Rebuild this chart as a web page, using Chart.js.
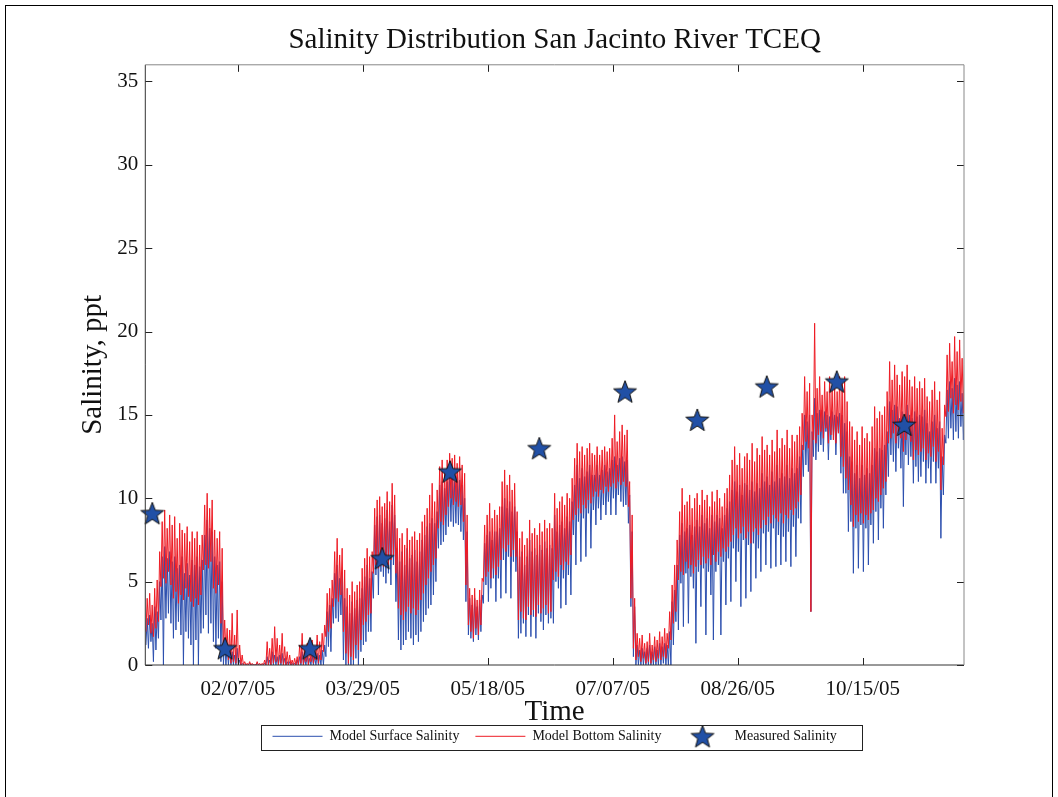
<!DOCTYPE html>
<html>
<head>
<meta charset="utf-8">
<title>Salinity Distribution San Jacinto River TCEQ</title>
<script src="https://cdn.jsdelivr.net/npm/chart.js@4.4.1/dist/chart.umd.min.js"></script>
<style>
  html, body { margin: 0; padding: 0; background: #fff; }
  #salinityChart { display: block; }
</style>
</head>
<body>
<canvas id="salinityChart" width="1058" height="797"></canvas>
<script>
// Salinidad (ppt) por día desde 01/01/05: mínimo y máximo diario de cada serie del modelo
const bottomLow = [
  2.0, 2.4, 1.9, 1.7, 2.2, 2.6, 4.7, 5.2, 4.9, 5.6,
  4.8, 4.0, 4.4, 3.7, 4.2, 3.9, 4.6, 4.1, 3.8, 3.5,
  4.0, 3.6, 4.2, 5.7, 6.0, 5.8, 6.2, 4.6, 4.3, 4.8,
  2.5, 0.7, 0.8, 0.3, 0.1, 0.2, 0.1, 0.0, 0.0, 0.0,
  0.0, 0.0, 0.0, 0.0, 0.0, 0.0, 0.0, 0.0, 0.0, 0.0,
  0.0, 0.1, 0.2, 0.0, 0.1, 0.0, 0.0, 0.0, 0.0, 0.0,
  0.0, 0.0, 0.1, 0.0, 0.2, 0.0, 0.2, 0.1, 0.3, 0.1,
  0.3, 0.8, 1.7, 2.0, 2.2, 3.5, 4.0, 3.8, 4.2, 2.0,
  0.7, 0.1, 0.5, 0.3, 1.2, 0.9, 1.5, 2.4, 2.6, 3.0,
  3.1, 5.5, 6.0, 5.8, 6.2, 5.9, 6.5, 6.0, 6.3, 6.6,
  5.5, 3.4, 3.0, 2.7, 3.2, 3.5, 3.1, 3.4, 3.0, 3.3,
  3.9, 4.3, 4.8, 5.2, 5.6, 6.0, 6.4, 8.2, 8.6, 8.4,
  9.0, 9.5, 10.0, 9.6, 9.8, 9.5, 9.6, 8.6, 4.8, 2.4,
  2.0, 1.6, 2.2, 1.8, 2.4, 5.0, 5.3, 5.6, 5.2, 5.8,
  5.4, 5.9, 6.3, 7.0, 6.8, 7.2, 6.5, 6.9, 6.5, 2.7,
  3.2, 2.8, 2.7, 3.5, 3.0, 3.3, 2.9, 3.6, 3.1, 3.4,
  3.6, 3.1, 3.2, 5.1, 5.6, 5.3, 6.0, 5.7, 6.2, 6.0,
  6.6, 8.7, 9.0, 9.4, 9.1, 9.6, 9.4, 9.9, 9.7, 10.1,
  10.4, 10.1, 10.5, 10.3, 10.7, 10.4, 10.7, 10.9, 10.6, 11.0,
  10.8, 11.0, 10.7, 9.5, 4.0, 1.0, 0.3, 0.5, 0.2, 0.4,
  0.1, 0.2, 0.1, 0.3, 0.2, 0.4, 0.3, 0.5, 0.4, 1.0,
  1.5, 2.5, 3.2, 5.1, 5.6, 5.4, 6.2, 5.8, 6.0, 5.5,
  5.9, 6.3, 6.0, 6.5, 6.1, 6.4, 6.0, 6.6, 6.2, 6.8,
  6.5, 7.0, 6.8, 7.1, 7.4, 7.8, 8.2, 7.6, 7.9, 8.3,
  7.6, 8.0, 7.3, 8.0, 8.2, 7.8, 8.2, 8.7, 8.4, 8.9,
  8.5, 9.0, 8.8, 8.6, 9.1, 8.5, 9.0, 8.8, 9.3, 9.0,
  9.4, 9.8, 10.2, 12.9, 13.4, 13.0, 3.2, 13.5, 13.3, 13.8,
  14.0, 13.6, 14.2, 13.3, 13.8, 13.5, 13.3, 13.9, 12.5, 11.9,
  11.2, 10.5, 9.6, 8.3, 9.0, 8.6, 9.1, 8.5, 9.0, 8.7,
  9.1, 9.3, 10.0, 9.8, 10.2, 10.6, 11.0, 13.3, 13.6, 13.9,
  13.3, 14.0, 13.6, 12.8, 13.5, 14.0, 13.4, 12.3, 12.9, 12.6,
  12.8, 13.0, 12.3, 12.7, 12.5, 13.1, 12.2, 12.8, 10.5, 12.0,
  14.9, 15.2, 16.0, 15.1, 15.6, 15.3, 15.8, 15.1
];

const bottomHigh = [
  4.0, 4.3, 3.6, 4.6, 5.1, 6.8, 8.6, 9.3, 8.2, 9.0,
  8.4, 8.9, 7.6, 8.5, 8.1, 7.9, 8.3, 7.4, 8.0, 7.6,
  8.0, 7.2, 7.8, 9.6, 10.3, 9.4, 9.9, 8.1, 7.6, 8.0,
  7.0, 2.7, 2.2, 2.1, 3.1, 1.8, 3.3, 1.2, 0.6, 0.2,
  0.1, 0.2, 0.1, 0.0, 0.2, 0.1, 0.1, 0.3, 1.4, 1.0,
  1.6, 2.3, 1.6, 1.2, 1.9, 1.1, 0.8, 0.6, 0.3, 0.4,
  0.5, 1.2, 1.9, 0.9, 1.3, 0.9, 1.5, 1.1, 1.8, 1.4,
  1.9, 2.4, 4.3, 4.6, 5.1, 6.8, 7.6, 6.6, 7.0, 5.7,
  4.6, 4.2, 5.0, 4.4, 4.8, 5.0, 5.8, 6.4, 7.0, 6.5,
  6.8, 9.4, 9.9, 10.1, 9.5, 9.7, 10.4, 9.8, 10.9, 10.2,
  8.2, 7.6, 7.9, 7.2, 8.2, 7.5, 7.7, 8.0, 7.5, 7.9,
  8.6, 9.0, 9.4, 10.2, 10.9, 9.8, 10.5, 11.9, 12.3, 11.6,
  12.3, 12.7, 12.4, 12.6, 12.1, 12.5, 12.0, 11.5, 9.0, 4.6,
  4.2, 4.6, 3.9, 4.5, 5.2, 8.4, 9.0, 9.7, 8.8, 9.3,
  9.0, 9.5, 11.0, 11.7, 10.8, 11.4, 10.5, 10.9, 9.2, 7.6,
  8.0, 7.2, 7.6, 8.7, 7.9, 8.2, 7.8, 8.5, 8.0, 8.7,
  8.2, 8.5, 8.2, 10.3, 9.4, 9.8, 10.1, 9.6, 10.3, 10.0,
  11.2, 12.4, 13.3, 12.8, 13.1, 12.6, 13.0, 13.3, 12.7, 12.6,
  13.1, 12.6, 12.9, 13.1, 12.8, 13.0, 13.6, 15.0, 13.4, 14.0,
  14.4, 13.8, 14.1, 11.0, 9.0, 4.0, 1.9, 1.6, 1.8, 1.3,
  1.4, 1.9, 1.2, 1.7, 1.5, 2.0, 1.7, 2.2, 1.9, 3.2,
  4.8, 6.0, 7.5, 9.2, 10.6, 9.6, 9.8, 10.2, 9.4, 10.0,
  10.3, 9.6, 10.5, 9.9, 10.2, 9.5, 10.4, 9.8, 10.5, 10.0,
  9.5, 10.3, 10.6, 11.4, 12.3, 13.1, 12.0, 12.7, 11.8, 12.5,
  12.7, 12.3, 13.3, 12.2, 13.0, 12.6, 13.7, 12.9, 13.2, 12.6,
  13.5, 12.8, 14.1, 13.0, 13.6, 13.2, 14.1, 13.0, 13.8, 13.4,
  13.8, 14.3, 15.1, 17.3, 16.4, 16.9, 15.0, 20.5, 16.6, 17.3,
  16.2, 17.0, 16.4, 17.3, 16.5, 16.8, 16.4, 17.3, 16.9, 17.3,
  15.8, 14.6, 14.3, 13.5, 14.0, 13.2, 14.3, 13.6, 13.9, 13.4,
  14.3, 15.5, 14.8, 15.2, 15.0, 15.5, 16.4, 18.2, 17.1, 18.0,
  17.4, 16.8, 17.6, 17.3, 18.0, 17.1, 16.7, 17.3, 16.6, 17.0,
  16.6, 17.2, 16.1, 15.8, 16.5, 17.0, 15.9, 16.4, 14.2, 15.6,
  18.6, 19.3, 18.2, 19.7, 18.8, 19.5, 18.4, 18.9
];

const surfaceLow = [
  1.2, 1.0, 1.4, 0.2, 0.9, 1.6, 2.7, 0.0, 2.8, 3.1,
  2.5, 1.6, 2.1, 2.6, 1.8, 0.0, 2.0, 1.6, 1.2, 0.0,
  1.5, 0.0, 1.9, 2.2, 3.0, 1.9, 2.5, 1.4, 1.0, 1.6,
  0.2, 0.0, 0.0, 0.0, 0.0, 0.0, 0.0, 0.0, 0.0, 0.0,
  0.0, 0.0, 0.0, 0.0, 0.0, 0.0, 0.0, 0.0, 0.0, 0.0,
  0.0, 0.0, 0.0, 0.0, 0.0, 0.0, 0.0, 0.0, 0.0, 0.0,
  0.0, 0.0, 0.0, 0.0, 0.0, 0.0, 0.0, 0.0, 0.0, 0.0,
  0.0, 0.0, 0.5, 1.1, 0.8, 2.5, 2.8, 2.6, 3.0, 0.3,
  0.0, 0.0, 0.0, 0.0, 0.4, 0.0, 0.8, 1.2, 1.4, 2.0,
  2.0, 4.0, 5.4, 4.2, 5.6, 5.3, 4.9, 5.5, 4.8, 6.0,
  3.8, 1.5, 0.9, 1.2, 1.5, 2.0, 1.6, 1.2, 1.8, 1.4,
  2.0, 2.6, 3.0, 3.4, 3.6, 4.2, 5.0, 7.0, 7.2, 7.4,
  7.8, 8.3, 8.6, 8.3, 8.5, 8.4, 8.0, 7.5, 3.8, 1.8,
  1.6, 1.4, 1.8, 1.5, 2.0, 3.7, 4.8, 3.8, 4.6, 5.2,
  3.8, 5.2, 4.0, 6.3, 4.3, 6.5, 4.0, 6.2, 5.6, 1.6,
  1.9, 2.5, 1.7, 3.0, 1.7, 2.9, 1.6, 3.1, 2.6, 2.1,
  3.0, 2.5, 2.8, 2.5, 5.0, 4.6, 3.4, 5.2, 3.6, 5.4,
  4.2, 7.8, 6.0, 8.6, 6.2, 8.8, 6.5, 9.1, 7.0, 9.3,
  8.4, 9.4, 8.7, 9.6, 9.0, 9.8, 9.0, 10.0, 9.0, 10.2,
  9.8, 9.5, 9.6, 8.5, 3.5, 0.5, 0.0, 0.0, 0.0, 0.0,
  0.0, 0.0, 0.0, 0.0, 0.0, 0.0, 0.0, 0.1, 0.0, 0.0,
  0.0, 1.2, 2.6, 2.1, 4.9, 2.3, 5.5, 2.5, 5.3, 4.6,
  1.3, 5.6, 3.5, 5.8, 1.8, 5.6, 4.2, 1.5, 5.6, 6.0,
  1.8, 6.2, 3.6, 6.4, 3.8, 7.0, 5.0, 6.8, 3.5, 7.5,
  4.0, 7.2, 4.4, 7.3, 5.2, 7.0, 5.6, 7.9, 6.0, 8.0,
  5.8, 8.2, 5.9, 7.8, 6.0, 7.7, 6.2, 8.0, 5.9, 8.3,
  6.5, 8.8, 8.5, 11.3, 12.0, 11.6, 3.2, 12.5, 12.3, 12.8,
  13.2, 12.8, 14.0, 12.3, 13.5, 13.8, 12.6, 14.0, 11.5, 10.3,
  10.3, 8.0, 8.6, 5.5, 8.2, 5.8, 8.4, 5.6, 8.2, 6.0,
  8.4, 7.3, 9.2, 7.5, 9.4, 8.2, 10.2, 11.3, 12.6, 12.2,
  11.6, 13.0, 11.8, 9.5, 12.6, 12.0, 12.5, 10.9, 11.9, 11.0,
  11.3, 12.2, 10.9, 11.8, 10.9, 12.2, 10.9, 11.8, 7.6, 10.2,
  13.3, 13.6, 14.2, 13.5, 14.0, 13.6, 14.3, 13.5
];

const surfaceHigh = [
  2.8, 3.0, 2.5, 3.5, 3.2, 5.0, 6.5, 7.1, 6.4, 6.8,
  6.2, 6.5, 5.8, 6.0, 6.5, 5.5, 6.1, 5.4, 6.3, 6.0,
  6.5, 5.9, 6.3, 7.8, 8.7, 8.2, 8.0, 6.5, 6.0, 6.2,
  5.0, 1.5, 1.2, 1.0, 0.8, 0.6, 1.0, 0.3, 0.1, 0.0,
  0.0, 0.1, 0.0, 0.0, 0.1, 0.0, 0.0, 0.1, 0.5, 0.3,
  0.8, 0.6, 0.5, 0.6, 0.7, 0.4, 0.2, 0.2, 0.1, 0.1,
  0.3, 0.5, 0.8, 0.4, 0.6, 0.4, 0.6, 0.5, 0.7, 0.6,
  0.9, 1.2, 3.2, 3.6, 4.0, 5.5, 6.0, 5.2, 5.6, 4.0,
  3.5, 3.1, 3.8, 3.4, 3.9, 4.0, 4.6, 5.3, 6.0, 5.2,
  5.6, 8.4, 8.9, 9.0, 8.5, 8.8, 9.3, 8.6, 9.6, 9.0,
  7.0, 6.2, 6.8, 6.0, 7.0, 6.4, 6.6, 6.9, 6.2, 6.8,
  7.5, 7.8, 8.3, 8.5, 8.8, 8.5, 9.2, 10.8, 11.0, 10.6,
  11.0, 11.5, 11.2, 11.0, 11.3, 11.1, 10.8, 10.0, 8.0, 4.0,
  3.6, 4.0, 3.5, 3.9, 4.2, 7.3, 7.8, 8.0, 7.5, 8.0,
  8.0, 8.2, 9.5, 10.0, 9.4, 9.8, 9.2, 9.5, 8.0, 6.5,
  6.8, 6.0, 6.5, 7.5, 6.8, 7.0, 6.6, 7.2, 6.9, 7.4,
  7.0, 7.2, 7.0, 9.0, 8.0, 8.4, 8.6, 8.2, 8.9, 8.6,
  9.8, 10.8, 12.0, 11.2, 11.8, 11.3, 11.6, 12.0, 11.4, 11.4,
  12.0, 11.4, 11.7, 12.0, 11.6, 11.8, 12.3, 12.5, 12.0, 12.4,
  12.5, 12.2, 12.3, 10.2, 8.0, 3.5, 1.2, 0.9, 1.0, 0.8,
  1.0, 1.2, 0.8, 1.1, 0.9, 1.3, 1.1, 1.3, 1.2, 2.0,
  3.8, 4.5, 6.0, 7.8, 8.5, 8.0, 8.2, 8.4, 7.8, 8.3,
  8.7, 8.3, 9.0, 8.5, 8.8, 8.2, 9.0, 8.6, 9.0, 8.8,
  8.2, 9.0, 9.4, 9.8, 10.5, 11.0, 10.4, 10.8, 10.2, 10.9,
  10.8, 10.5, 11.0, 10.4, 10.9, 10.6, 11.5, 11.0, 11.3, 10.8,
  11.6, 11.0, 12.0, 11.2, 11.5, 11.3, 12.0, 11.2, 11.8, 11.5,
  11.8, 12.5, 13.2, 15.0, 14.6, 15.0, 14.0, 16.0, 15.1, 15.3,
  15.3, 15.2, 15.0, 14.9, 15.2, 15.0, 14.9, 15.1, 15.0, 14.5,
  14.0, 12.5, 12.2, 11.5, 12.0, 11.2, 12.0, 11.4, 11.8, 11.5,
  12.0, 13.0, 12.8, 13.0, 12.9, 13.2, 14.0, 15.8, 15.3, 15.6,
  15.5, 14.8, 15.2, 15.0, 15.6, 15.0, 14.8, 15.2, 14.9, 15.0,
  14.9, 15.3, 14.5, 14.0, 14.6, 15.0, 14.2, 14.6, 12.5, 13.8,
  16.5, 17.0, 16.6, 17.2, 16.8, 17.0, 16.3, 16.8
];

// Muestras medidas: día del año (desde 01/01/05) y salinidad
const measuredDays = [2.8, 31.9, 65.9, 94.8, 121.9, 157.6, 191.9, 220.8, 248.6, 276.6, 303.6];
const measuredSalinity = [9.1, 1.0, 1.0, 6.4, 11.6, 13.0, 16.4, 14.7, 16.7, 17.0, 14.4];

// Eje de tiempo: marcas cada 50 días
const tickDays = [37, 87, 137, 187, 237, 287];
const tickLabels = ['02/07/05', '03/29/05', '05/18/05', '07/07/05', '08/26/05', '10/15/05'];

const FONT = "'Liberation Serif', 'Times New Roman', serif";
const BLUE = '#2c4fae';
const RED = '#ee1c25';

// Estrella rellena para las mediciones (Chart.js no trae una de 5 puntas)
function makeStar(r, fill) {
    const size = Math.ceil(r * 2 + 4);
    const c = document.createElement('canvas');
    c.width = size;
    c.height = size;
    const g = c.getContext('2d');
    const cx = size / 2, cy = size / 2 + 1;
    g.beginPath();
    for (let i = 0; i < 10; i++) {
        const rad = i % 2 === 0 ? r : r * 0.42;
        const a = -Math.PI / 2 + i * Math.PI / 5;
        const px = cx + Math.cos(a) * rad;
        const py = cy + Math.sin(a) * rad;
        if (i === 0) g.moveTo(px, py); else g.lineTo(px, py);
    }
    g.closePath();
    g.fillStyle = fill;
    g.fill();
    g.lineWidth = 1;
    g.strokeStyle = '#111';
    g.stroke();
    return c;
}
const starImg = makeStar(12, '#2150a6');

// Marco de la figura, caja de ejes con marcas hacia dentro y borde de la leyenda
const matlabFrame = {
    id: 'matlabFrame',
    beforeDraw(chart) {
        const {ctx, width, height} = chart;
        ctx.save();
        ctx.fillStyle = '#fff';
        ctx.fillRect(0, 0, width, height);
        ctx.strokeStyle = '#000';
        ctx.lineWidth = 1;
        ctx.strokeRect(5.5, 5.5, width - 11, height + 10);
        ctx.restore();
    },
    afterDraw(chart) {
        const {ctx, chartArea: a, scales} = chart;
        const x = scales.x, y = scales.y;
        const tl = 7;
        ctx.save();
        ctx.lineWidth = 1;
        ctx.strokeStyle = '#222';
        ctx.beginPath();
        x.ticks.forEach(t => {
            const px = Math.round(x.getPixelForValue(t.value)) + 0.5;
            ctx.moveTo(px, a.bottom); ctx.lineTo(px, a.bottom - tl);
            ctx.moveTo(px, a.top); ctx.lineTo(px, a.top + tl);
        });
        y.ticks.forEach(t => {
            const py = Math.round(y.getPixelForValue(t.value)) + 0.5;
            ctx.moveTo(a.left, py); ctx.lineTo(a.left + tl, py);
            ctx.moveTo(a.right, py); ctx.lineTo(a.right - tl, py);
        });
        ctx.stroke();

        ctx.strokeStyle = '#333';
        ctx.beginPath();
        ctx.moveTo(a.left, a.top); ctx.lineTo(a.left, a.bottom); ctx.lineTo(a.right, a.bottom);
        ctx.stroke();
        ctx.strokeStyle = '#888';
        ctx.beginPath();
        ctx.moveTo(a.left, a.top); ctx.lineTo(a.right, a.top); ctx.lineTo(a.right, a.bottom);
        ctx.stroke();

        // borde de la leyenda
        const boxes = chart.legend.legendHitBoxes;
        if (boxes && boxes.length) {
            const first = boxes[0], last = boxes[boxes.length - 1];
            const left = Math.round(first.left - 12) + 0.5;
            const right = Math.round(last.left + last.width + 25) + 0.5;
            const top = Math.round(first.top - 4) + 0.5;
            const bottom = Math.round(first.top + first.height + 7) + 0.5;
            ctx.strokeStyle = '#222';
            ctx.strokeRect(left, top, right - left, bottom - top);
        }
        ctx.restore();
    }
};

// dos puntos por día: mínimo y luego máximo (oscilación de marea)
const toTidal = (low, high) => low.flatMap((v, i) => [
    {x: i + 0.25, y: v},
    {x: i + 0.75, y: high[i]}
]);

new Chart(document.getElementById('salinityChart'), {
    type: 'line',
    data: {
        datasets: [
            {
                label: 'Model Surface Salinity',
                data: toTidal(surfaceLow, surfaceHigh),
                borderColor: BLUE,
                backgroundColor: BLUE,
                borderWidth: 1,
                pointRadius: 0,
                pointStyle: 'line',
                pointBorderWidth: 1,
                order: 3
            },
            {
                label: 'Model Bottom Salinity',
                data: toTidal(bottomLow, bottomHigh),
                borderColor: RED,
                backgroundColor: RED,
                borderWidth: 1,
                pointRadius: 0,
                pointStyle: 'line',
                pointBorderWidth: 1,
                order: 2
            },
            {
                label: 'Measured Salinity',
                data: measuredDays.map((d, i) => ({x: d, y: measuredSalinity[i]})),
                showLine: false,
                pointStyle: starImg,
                pointRadius: 12,
                borderColor: '#111',
                backgroundColor: '#2150a6',
                clip: false,
                order: 1
            }
        ]
    },
    options: {
        responsive: false,
        animation: false,
        layout: { padding: { left: 0, right: 94, top: 0, bottom: 43.7 } },
        scales: {
            x: {
                type: 'linear',
                min: 0,
                max: 327.5,
                grid: { display: false, drawTicks: false },
                border: { display: false },
                afterBuildTicks: scale => {
                    scale.ticks = tickDays.map(v => ({value: v}));
                },
                afterFit: scale => { scale.height = 48.3; },
                ticks: {
                    autoSkip: false,
                    maxRotation: 0,
                    padding: 12,
                    color: '#111',
                    font: { family: FONT, size: 21 },
                    callback: (value, index) => tickLabels[index]
                },
                title: {
                    display: true,
                    text: 'Time',
                    color: '#111',
                    font: { family: FONT, size: 29 },
                    padding: { top: 0, bottom: -16.5 }
                }
            },
            y: {
                min: 0,
                max: 36,
                grid: { display: false, drawTicks: false },
                border: { display: false },
                afterFit: scale => { scale.width = 145.3; },
                ticks: {
                    stepSize: 5,
                    includeBounds: false,
                    padding: 7,
                    color: '#111',
                    font: { family: FONT, size: 21 }
                },
                title: {
                    display: true,
                    text: 'Salinity, ppt',
                    color: '#111',
                    font: { family: FONT, size: 29 },
                    padding: { top: 75.6, bottom: 0 }
                }
            }
        },
        plugins: {
            title: {
                display: true,
                text: 'Salinity Distribution San Jacinto River TCEQ',
                color: '#111',
                fullSize: false,
                font: { family: FONT, size: 29, weight: 'normal' },
                padding: { top: 23, bottom: 7 }
            },
            legend: {
                position: 'bottom',
                fullSize: false,
                labels: {
                    usePointStyle: true,
                    pointStyleWidth: 50,
                    padding: 16,
                    color: '#111',
                    font: { family: FONT, size: 14 },
                    sort: (a, b) => a.datasetIndex - b.datasetIndex
                }
            },
            tooltip: { enabled: false }
        }
    },
    plugins: [matlabFrame]
});
</script>
</body>
</html>
